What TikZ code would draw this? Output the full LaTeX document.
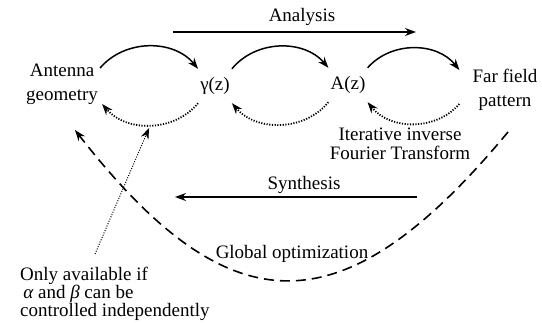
\documentclass[tikz,border=0pt]{standalone}
\usepackage{fontspec}
\setmainfont{Liberation Serif}
\usetikzlibrary{calc,arrows.meta}

\begin{document}
\begin{tikzpicture}[x=1pt,y=1pt,>={Stealth[length=11pt,width=8pt]},
    label/.style={font=\fontsize{19}{24}\selectfont,inner sep=2pt},
    quantity/.style={label,minimum height=34pt},
    forward/.style={line width=1.5pt,->},
    backward/.style={line width=1.8pt,->,dash pattern=on 1.2pt off 1.5pt},
    globalpath/.style={line width=1.6pt,->,dash pattern=on 10pt off 6pt}]
\useasboundingbox (0,0) rectangle (542,322);
% the four stages
\node[label,align=center] (ant) at (62,238) {Antenna\\geometry};
\node[quantity] (gam) at (215,236) {γ(z)};
\node[quantity] (amp) at (348,237) {A(z)};
\node[label,align=center] (far) at (505,232) {Far field\\pattern};
% analysis direction
\draw[forward] ($(ant.east)+(0,16)$) to[bend left=50] (gam.north west);
\draw[forward] (gam.north east) to[bend left=50] (amp.north west);
\draw[forward] (amp.north east) to[bend left=50] ($(far.west)+(-11,20)$);
% inverse direction
\draw[backward] (gam.south west) to[bend left=50] coordinate[pos=0.5] (dip) ($(ant.east)+(2,-20)$);
\draw[backward] (amp.south west) to[bend left=50] (gam.south east);
\draw[backward] ($(far.west)+(-11,-14)$) to[bend left=50] (amp.south east);
\node[label,align=center,font=\fontsize{19}{19}\selectfont] (iter) at (400,178) {Iterative inverse\\Fourier Transform};
% big arrows
\coordinate (an1) at (173,290);
\coordinate (an2) at (416,290);
\draw[forward] (an1) -- (an2);
\node[label] (analysis) at (302,305) {Analysis};
\coordinate (sy1) at (417,125);
\coordinate (sy2) at (175,125);
\draw[forward] (sy1) -- (sy2);
\node[label] (synthesis) at (304,137) {Synthesis};
% global optimization
\coordinate (gstart) at (508,190);
\coordinate (gend) at (75,192);
\draw[globalpath] (gstart) .. controls (343,-9) and (230,-7) .. (gend);
\node[label] (global) at (292,68) {Global optimization};
% remark
\node[label,align=left,anchor=west,inner sep=0pt,font=\fontsize{19}{15}\selectfont] (note) at (20,28)
    {Only available if\\\,{\itshape α} and {\itshape β} can be\\controlled independently};
\coordinate (notetop) at (95,68);
\draw[line width=1pt,->,dash pattern=on 1pt off 1.5pt,shorten >=3pt] (notetop) -- (dip);
\end{tikzpicture}
\end{document}
